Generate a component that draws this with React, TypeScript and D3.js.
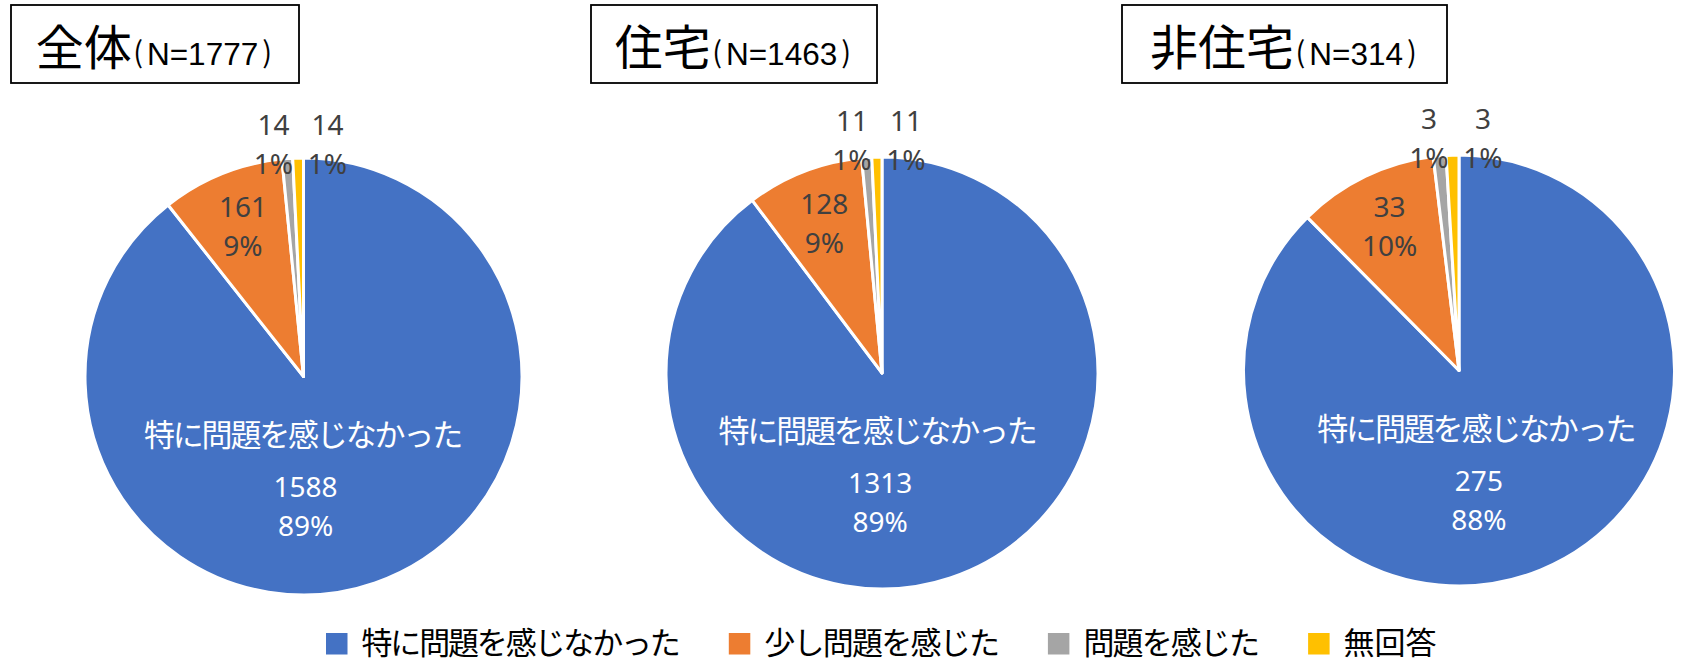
import React from "react";
import * as d3 from "d3";

// ---- data ----
const categories = ["特に問題を感じなかった", "少し問題を感じた", "問題を感じた", "無回答"];
const groupNames = ["全体", "住宅", "非住宅"];
const groupTotals = [1777, 1463, 314];
const valuesAll = [1588, 161, 14, 14];
const valuesHousing = [1313, 128, 11, 11];
const valuesNonHousing = [275, 33, 3, 3];
const seriesValues = [valuesAll, valuesHousing, valuesNonHousing];
const colors = ["#4472C4", "#ED7D31", "#A5A5A5", "#FFC000"];

// ---- layout ----
const W = 1681;
const H = 670;
const pies = [
  { cx: 303.5, cy: 376.5, r: 218.5 },
  { cx: 882, cy: 373, r: 216 },
  { cx: 1459, cy: 370.5, r: 215.5 },
];
const boxes = [
  { x: 11, y: 5, w: 288, h: 78 },
  { x: 591, y: 5, w: 286, h: 78 },
  { x: 1122, y: 5, w: 325, h: 78 },
];
const CJK = "'Noto Sans CJK JP', 'Noto Sans CJK SC', sans-serif";
const NUM = "'Noto Sans', 'Open Sans', sans-serif";
const LAT = "'Liberation Sans', Arial, sans-serif";
const DARK = "#404040";

const isKana = (c: string) => /[\u3040-\u30FF]/.test(c);
const jpWidth = (s: string, fs: number) =>
  Array.from(s).reduce((a, c) => a + (isKana(c) ? 0.9 : 1.0) * fs, 0);
const latWidth = (s: string, fs: number) =>
  Array.from(s).reduce((a, c) => a + (c === "N" ? 0.722 : c === "=" ? 0.584 : 0.556) * fs, 0);

// Excel-style percentages that sum to 100 (largest remainder)
function percents(vals: number[]) {
  const total = d3.sum(vals);
  const raw = vals.map((v) => (v / total) * 100);
  const fl = raw.map(Math.floor);
  const rest = 100 - d3.sum(fl);
  const order = raw.map((v, i) => i).sort((a, b) => (raw[b] - fl[b]) - (raw[a] - fl[a]));
  for (let k = 0; k < rest; k++) fl[order[k]] += 1;
  return fl;
}

function Pie({ gi }: { gi: number }) {
  const vals = seriesValues[gi];
  const { cx, cy, r } = pies[gi];
  const total = d3.sum(vals);
  const pcts = percents(vals);
  const arcs = d3.pie<number>().sort(null).value((d) => d)(vals);
  const arcGen = d3.arc<d3.PieArcDatum<number>>().innerRadius(0).outerRadius(r);
  const midArc = d3.arc<d3.PieArcDatum<number>>().innerRadius(r * 0.74).outerRadius(r * 0.74);

  const small = arcs.filter((a) => a.value / total < 0.05);
  const labels: React.ReactNode[] = [];
  arcs.forEach((a, i) => {
    const frac = a.value / total;
    const mid = (a.startAngle + a.endAngle) / 2;
    if (frac >= 0.5) {
      const x = cx + r * 1.58 * Math.sin(mid) - r * 0.518;
      const y0 = cy + 69;
      labels.push(
        <g key={"l" + i} fill="#fff" textAnchor="middle">
          <text x={x} y={y0} fontFamily={CJK} fontSize={31} textLength={jpWidth(categories[i], 31)} lengthAdjust="spacing">
            {categories[i]}
          </text>
          <text x={x + 2} y={y0 + 51} fontFamily={NUM} fontSize={28}>{vals[i]}</text>
          <text x={x + 2} y={y0 + 90} fontFamily={NUM} fontSize={28}>{pcts[i] + "%"}</text>
        </g>
      );
    } else if (frac >= 0.05) {
      const [dx, dy] = midArc.centroid(a);
      labels.push(
        <g key={"l" + i} fill={DARK} textAnchor="middle" fontFamily={NUM} fontSize={28}>
          <text x={cx + dx} y={cy + dy - 9.5}>{vals[i]}</text>
          <text x={cx + dx} y={cy + dy + 29}>{pcts[i] + "%"}</text>
        </g>
      );
    } else {
      const k = small.indexOf(a);
      const x = cx - 3 + (k - (small.length - 1) / 2) * 54;
      const yb = cy - 203;
      labels.push(
        <g key={"l" + i} fill={DARK} textAnchor="middle" fontFamily={NUM} fontSize={28}>
          <text x={x} y={yb - 39}>{vals[i]}</text>
          <text x={x} y={yb}>{pcts[i] + "%"}</text>
        </g>
      );
    }
  });

  return (
    <g>
      <g transform={`translate(${cx},${cy})`}>
        {arcs.map((a, i) => (
          <path key={i} d={arcGen(a) || ""} fill={colors[i]} stroke="#fff" strokeWidth={3} strokeLinejoin="round" />
        ))}
      </g>
      {labels}
    </g>
  );
}

function Title({ gi }: { gi: number }) {
  const b = boxes[gi];
  const name = groupNames[gi];
  const nText = "N=" + groupTotals[gi];
  const bigFs = 48;
  const nFs = 31.5;
  const parenFs = 29;
  const nW = latWidth(nText, nFs);
  const n = Array.from(name).length;
  const inkW = n * bigFs + nW + 28.5;
  const inkStart = b.x + (b.w - inkW) / 2;
  const bigX = inkStart - 1.5;
  const base = b.y + 60;
  return (
    <g>
      <rect x={b.x} y={b.y} width={b.w} height={b.h} fill="#fff" stroke="#000" strokeWidth={1.8} />
      <text x={bigX} y={base} fill="#000">
        <tspan fontFamily={CJK} fontSize={bigFs}>{name}</tspan>
        <tspan fontFamily={CJK} fontSize={parenFs} dx={1.5} dy={-2}>(</tspan>
        <tspan fontFamily={LAT} fontSize={nFs} dx={4} dy={2}>{nText}</tspan>
        <tspan fontFamily={CJK} fontSize={parenFs} dx={4} dy={-2}>)</tspan>
      </text>
    </g>
  );
}

function Legend() {
  const fs = 31;
  const sq = 21.5;
  const gapST = 14;
  const gapItem = 48;
  let x = 326;
  const items = categories.map((c, i) => {
    const tw = jpWidth(c, fs);
    const g = (
      <g key={i}>
        <rect x={x} y={633} width={sq} height={sq} fill={colors[i]} />
        <text x={x + sq + gapST} y={654} fontFamily={CJK} fontSize={fs} textLength={tw} lengthAdjust="spacing" fill="#000">
          {c}
        </text>
      </g>
    );
    x += sq + gapST + tw + gapItem;
    return g;
  });
  return <g>{items}</g>;
}

export default function App() {
  return (
    <svg
      width={W}
      height={H}
      viewBox={`0 0 ${W} ${H}`}
      style={{ position: "fixed", left: 0, top: 0, background: "#fff" }}
    >
      <rect x={0} y={0} width={W} height={H} fill="#fff" />
      {groupNames.map((_, gi) => (
        <Pie key={"p" + gi} gi={gi} />
      ))}
      {groupNames.map((_, gi) => (
        <Title key={"t" + gi} gi={gi} />
      ))}
      <Legend />
    </svg>
  );
}
